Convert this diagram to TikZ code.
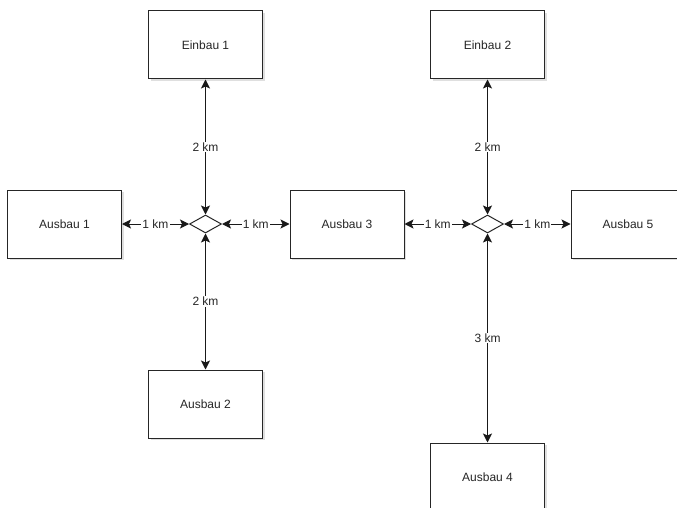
\documentclass[tikz,border=0pt]{standalone}
\usepackage{fontspec}
\setmainfont{Liberation Sans}
\usetikzlibrary{shapes.geometric,arrows.meta,shadows}
\begin{document}
\begin{tikzpicture}[x=1pt,y=-1pt,
  box/.style={draw=black!85, line width=1pt, fill=white, minimum width=114pt, minimum height=68pt,
    inner sep=0pt, font=\fontsize{12}{14}\selectfont, text=black!85,
    drop shadow={shadow xshift=2pt, shadow yshift=-2pt, opacity=0.25, fill=gray}},
  junction/.style={draw=black!85, line width=1pt, fill=white, shape=diamond, inner sep=0pt,
    minimum width=32pt, minimum height=18pt},
  conn/.style={draw=black!90, line width=1pt, {Stealth[length=9pt,width=9pt,inset=2pt]}-{Stealth[length=9pt,width=9pt,inset=2pt]}},
  lbl/.style={fill=white, inner sep=1pt, font=\fontsize{12}{14}\selectfont, text=black!85}]
\useasboundingbox (0,0) rectangle (677,508);
\clip (0,0) rectangle (677,508);
\fill[white] (0,0) rectangle (677,508);
\node[box] (e1) at (205.5,45) {Einbau 1};
\node[box] (e2) at (487.5,45) {Einbau 2};
\node[box] (a1) at (64.5,224) {Ausbau 1};
\node[box] (a3) at (347,224) {Ausbau 3};
\node[box] (a5) at (628,224) {Ausbau 5};
\node[box] (a2) at (205.5,404) {Ausbau 2};
\node[box] (a4) at (487.5,477) {Ausbau 4};
\node[junction] (d1) at (205.5,224) {};
\node[junction] (d2) at (487.5,224) {};
\draw[conn] (e1) -- (d1) node[midway,lbl] {2 km};
\draw[conn] (d1) -- (a2) node[midway,lbl] {2 km};
\draw[conn] (e2) -- (d2) node[midway,lbl] {2 km};
\draw[conn] (d2) -- (a4) node[midway,lbl] {3 km};
\draw[conn] (a1) -- (d1) node[midway,lbl] {1 km};
\draw[conn] (d1) -- (a3) node[midway,lbl] {1 km};
\draw[conn] (a3) -- (d2) node[midway,lbl] {1 km};
\draw[conn] (d2) -- (a5) node[midway,lbl] {1 km};
\end{tikzpicture}
\end{document}
